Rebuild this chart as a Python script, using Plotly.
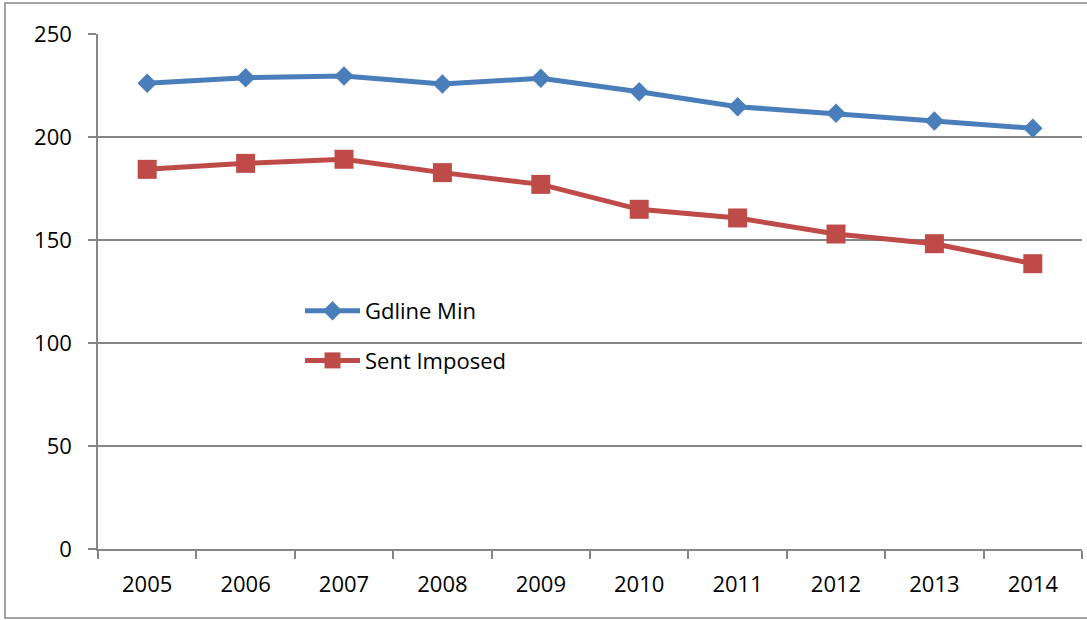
import plotly.graph_objects as go

years = ["2005", "2006", "2007", "2008", "2009", "2010", "2011", "2012", "2013", "2014"]
gdline_min = [226.1, 228.8, 229.6, 225.7, 228.5, 222.0, 214.7, 211.5, 207.8, 204.2]
sent_imposed = [184.3, 187.2, 189.2, 182.7, 177.0, 164.9, 160.7, 152.9, 148.2, 138.5]

BLUE = "#4A7EBB"
RED = "#BE4B48"
GREY = "#868686"
FONT = "Open Sans, Liberation Sans, sans-serif"

fig = go.Figure()
fig.add_trace(go.Scatter(
    x=years, y=gdline_min, name="Gdline Min", mode="lines+markers",
    legendgroup="a",
    line=dict(color=BLUE, width=5),
    marker=dict(symbol="diamond", size=15, color=BLUE),
))
fig.add_trace(go.Scatter(
    x=years, y=sent_imposed, name="Sent Imposed", mode="lines+markers",
    legendgroup="b",
    line=dict(color=RED, width=5),
    marker=dict(symbol="square", size=19, color=RED),
))

L, R, T, B = 98, 5, 34, 71
W, H = 1087, 620
pw, ph = W - L - R, H - T - B

def px_x(p):
    return (p - L) / pw

def px_y(p):
    return (H - B - p) / ph

fig.add_shape(type="rect", xref="paper", yref="paper",
              x0=px_x(5), x1=px_x(1095), y0=px_y(618), y1=px_y(3),
              line=dict(color=GREY, width=1.5), fillcolor="rgba(0,0,0,0)", layer="below")

fig.update_layout(
    width=W, height=H,
    margin=dict(l=L, r=R, t=T, b=B),
    paper_bgcolor="white", plot_bgcolor="white",
    font=dict(family=FONT, size=22, color="black"),
    showlegend=True,
    legend=dict(x=px_x(300), y=px_y(290), xanchor="left", yanchor="top",
                bgcolor="rgba(0,0,0,0)", font=dict(size=22), itemwidth=55,
                traceorder="grouped", tracegroupgap=18),
    xaxis=dict(
        type="category", range=[-0.5, 9.5], tickson="boundaries",
        showline=True, linecolor=GREY, linewidth=1.5,
        ticks="outside", ticklen=8, tickcolor=GREY, tickwidth=1.5,
        showgrid=False, ticklabelstandoff=15,
    ),
    yaxis=dict(
        range=[0, 250], dtick=50, tick0=0,
        showline=True, linecolor=GREY, linewidth=1.5,
        ticks="outside", ticklen=8, tickcolor=GREY, tickwidth=1.5,
        showgrid=True, gridcolor=GREY, gridwidth=1.5,
        zeroline=False, ticklabelstandoff=12,
    ),
)

fig.write_html("out.html", config={"displayModeBar": False},
               post_script="document.body.style.margin='0';")
